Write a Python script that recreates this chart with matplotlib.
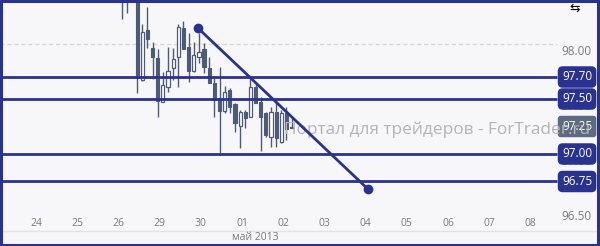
import matplotlib
matplotlib.use("Agg")
import matplotlib.pyplot as plt
import matplotlib.transforms as mtransforms
from matplotlib.patches import Rectangle
import numpy as np

plt.rcParams["font.family"] = ["Open Sans", "DejaVu Sans"]

# Colours
BG = "#f7f7fa"
NAVY = "#2a3290"
CANDLE = "#4d5b77"
CUR_BOX = "#5d6b82"
AXIS_TXT = "#7a7a72"
WATERMARK = "#b4b4b4"

# x axis (days, one unit per trading day label)
day_labels = ["24", "25", "26", "29", "30", "01", "02", "03", "04", "05", "06", "07", "08"]
month_label = "май 2013"

# 3h candles, starting on the 26th
first_candle_day = 2.08
candle_step = 0.125
opens = [98.52, 98.45, 98.50, 98.45, 97.673, 98.127, 97.964, 97.873, 97.473, 97.609,
         97.782, 97.882, 98.145, 97.973, 97.755, 97.882, 97.955, 97.782, 97.645, 97.509,
         97.391, 97.582, 97.455, 97.255, 97.382, 97.336, 97.609, 97.473, 97.373, 97.155,
         97.382, 97.109, 97.373, 97.236]
highs = [98.60, 98.55, 98.60, 98.55, 98.182, 98.336, 98.018, 97.955, 97.745, 97.973,
         97.964, 98.182, 98.209, 98.100, 98.018, 98.100, 98.009, 97.882, 97.691, 97.791,
         97.618, 97.600, 97.464, 97.400, 97.400, 97.700, 97.645, 97.518, 97.382, 97.427,
         97.491, 97.400, 97.427, 97.336]
lows = [98.227, 98.282, 98.45, 97.555, 97.665, 97.964, 97.682, 97.336, 97.473, 97.564,
        97.673, 97.609, 97.955, 97.655, 97.745, 97.827, 97.736, 97.645, 97.336, 97.009,
        97.373, 97.373, 97.200, 97.055, 97.236, 97.336, 97.464, 97.027, 97.155, 97.064,
        97.064, 97.100, 97.127, 97.236]
closes = [98.48, 98.50, 98.55, 97.691, 98.109, 98.045, 97.882, 97.482, 97.627, 97.755,
          97.864, 98.155, 97.955, 97.755, 97.900, 97.927, 97.791, 97.645, 97.491, 97.391,
          97.564, 97.427, 97.282, 97.382, 97.327, 97.609, 97.464, 97.336, 97.173, 97.382,
          97.145, 97.373, 97.227, 97.245]

# drawn objects
levels = [97.70, 97.50, 97.00, 96.75]
current_price = 97.25
trend_x = [3.93, 8.06]
trend_y = [98.145, 96.68]
grid_levels = [98.00]
price_ticks = [98.00, 97.50, 97.00, 96.50]
watermark = "Портал для трейдеров - ForTrader.ru"

W, H = 600, 246
fig = plt.figure(figsize=(W / 100, H / 100), dpi=100)
fig.patch.set_facecolor(BG)

# plot area: full width, from y=2px to y=231px
ax = fig.add_axes([0, (H - 231) / H, 1, 229 / H])
ax.set_facecolor(BG)
ax.set_xlim(-36 / 41.2, (W - 36) / 41.2)
ax.set_ylim(97.5 - (231 - 99) / 110, 97.5 + (99 - 2) / 110)
for s in ["top", "left", "right"]:
    ax.spines[s].set_visible(False)
ax.spines["bottom"].set_color("#e2e2e6")
ax.spines["bottom"].set_linewidth(1)
ax.set_xticks([])
ax.set_yticks([])

x0, x1 = ax.get_xlim()
line_end = (557 - 36) / 41.2

# dashed grid
for g in grid_levels:
    ax.hlines(g, x0, line_end, color="#d9d6cc", lw=1, ls=(0, (3, 2)), zorder=1)

# candles
xs = first_candle_day + candle_step * np.arange(len(opens))
o = np.array(opens)
c = np.array(closes)
bull = c >= o
ax.vlines(xs, lows, highs, color=CANDLE, lw=1, zorder=2)
body_w = 3.2 / 41.2
ax.bar(xs[~bull], (o - c)[~bull], bottom=c[~bull], width=body_w,
       color=CANDLE, edgecolor=CANDLE, lw=0.8, zorder=3)
ax.bar(xs[bull], np.maximum((c - o)[bull], 0.006), bottom=o[bull], width=body_w,
       color="white", edgecolor=CANDLE, lw=0.9, zorder=3)

# watermark
ax.text(6.02, 97.22, watermark, color=WATERMARK, fontsize=12.4, ha="left",
        va="center", zorder=4, clip_on=False)

# horizontal levels
ax.hlines(levels, x0, line_end, color=NAVY, lw=2, zorder=5)

# trend line
ax.plot(trend_x, trend_y, color=NAVY, lw=2, marker="o", markersize=6, zorder=6)

# price axis labels (sit a few pixels under their level)
tr = mtransforms.blended_transform_factory(ax.transAxes, ax.transData)
off = mtransforms.offset_copy(tr, fig=fig, x=0, y=-7.5, units="dots")
for p in price_ticks:
    ax.text(561 / W, p, f"{p:.2f}", transform=off, ha="left", va="center",
            fontsize=8.5, color=AXIS_TXT, zorder=3)

# level boxes
for lv in levels:
    ax.text(562 / W, lv, f"{lv:.2f}", transform=tr, ha="left", va="center",
            fontsize=8.5, color="white", zorder=8,
            bbox=dict(boxstyle="round,pad=0.3,rounding_size=0.35", fc=NAVY, ec=NAVY))
ax.text(562 / W, current_price, f"{current_price:.2f}", transform=tr, ha="left",
        va="center", fontsize=8.5, color="white", zorder=3,
        bbox=dict(boxstyle="round,pad=0.3,rounding_size=0.2", fc=CUR_BOX, ec=CUR_BOX))

# day labels inside the plot area, month under the separator
trx = mtransforms.blended_transform_factory(ax.transData, ax.transAxes)
for i, lab in enumerate(day_labels):
    ax.text(i, (231 - 224) / 229, lab, transform=trx, ha="center", va="center",
            fontsize=7.5, color=AXIS_TXT)
fig.text(255 / W, 1 - 238 / H, month_label, ha="center", va="center",
         fontsize=7.5, color=AXIS_TXT)

# small icon top-right
fig.text(575 / W, 1 - 8 / H, "⇆", ha="center", va="center", fontsize=9,
         color="black", family="DejaVu Sans")

# outer frame
fig.patches.append(Rectangle((0.002, 0.004), 0.994, 0.99, transform=fig.transFigure,
                             fill=False, ec=NAVY, lw=2.2, zorder=10))

fig.savefig("out.png", dpi=100, facecolor=BG)
